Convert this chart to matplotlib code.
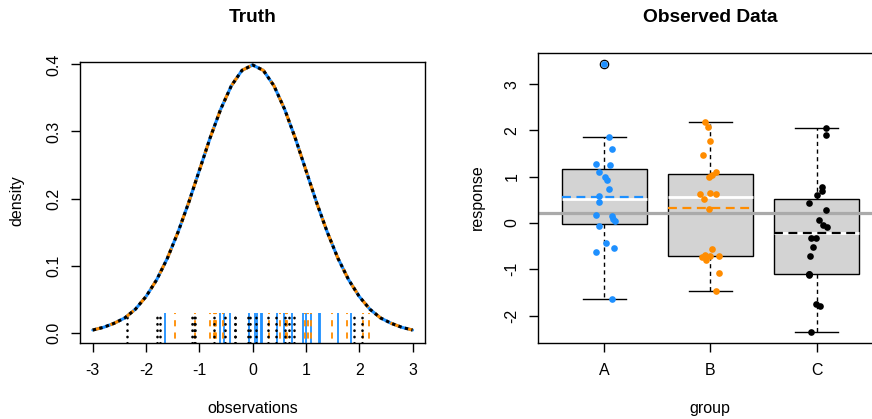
import numpy as np
import matplotlib
matplotlib.use('Agg')
import matplotlib.pyplot as plt

plt.rcParams['font.family'] = ['Liberation Sans', 'DejaVu Sans']
plt.rcParams['axes.unicode_minus'] = False

# density curve ("Truth")
curve_x = [-3.0, -2.8, -2.6, -2.4, -2.2, -2.0, -1.8, -1.6, -1.4, -1.2, -1.0,
           -0.8, -0.6, -0.4, -0.2, 0.0, 0.2, 0.4, 0.6, 0.8, 1.0,
           1.2, 1.4, 1.6, 1.8, 2.0, 2.2, 2.4, 2.6, 2.8, 3.0]
curve_y = [0.004, 0.008, 0.014, 0.022, 0.035, 0.054, 0.079, 0.111, 0.150, 0.194, 0.242,
           0.290, 0.333, 0.368, 0.391, 0.399, 0.391, 0.368, 0.333, 0.290, 0.242,
           0.194, 0.150, 0.111, 0.079, 0.054, 0.035, 0.022, 0.014, 0.008, 0.004]

# observed responses per group (same values make the rug on the left)
resp_a = [3.43, 1.85, 1.61, 1.27, 1.25, 1.10, 1.00, 0.94, 0.74, 0.58,
          0.45, 0.18, 0.15, 0.09, 0.04, -0.06, -0.43, -0.54, -0.62, -1.64]
resp_b = [2.19, 2.07, 1.77, 1.48, 1.10, 1.03, 0.99, 0.65, 0.63, 0.62,
          0.51, 0.31, -0.55, -0.68, -0.71, -0.71, -0.73, -0.80, -1.08, -1.46]
resp_c = [2.05, 1.90, 0.78, 0.69, 0.60, 0.43, 0.29, 0.06, -0.05, -0.09,
          -0.33, -0.33, -0.51, -0.72, -1.09, -1.11, -1.13, -1.74, -1.79, -2.35]

# horizontal jitter of the points in the right panel
jit_a = [0.00, 0.04, 0.07, -0.08, 0.05, -0.05, 0.01, 0.03, 0.04, -0.05,
         -0.05, -0.08, 0.07, 0.08, 0.10, -0.05, 0.02, 0.09, -0.08, 0.07]
jit_b = [-0.05, -0.02, 0.00, -0.07, 0.05, 0.01, -0.01, 0.00, -0.10, 0.05,
         -0.06, -0.01, 0.01, -0.05, 0.00, 0.08, -0.08, -0.04, 0.08, 0.05]
jit_c = [0.09, 0.09, 0.05, 0.05, 0.00, -0.07, 0.09, 0.02, 0.06, 0.10,
         -0.05, -0.01, -0.03, -0.06, -0.07, -0.07, -0.07, -0.01, 0.03, -0.05]

groups = ['A', 'B', 'C']
colors = ['dodgerblue', 'darkorange', 'black']

resp = [np.array(resp_a), np.array(resp_b), np.array(resp_c)]
jits = [np.array(jit_a), np.array(jit_b), np.array(jit_c)]


def fivenum(v):
    v = np.sort(v)
    n = len(v)
    n4 = np.floor((n + 3) / 2) / 2
    d = np.array([1, n4, (n + 1) / 2, n + 1 - n4, n]) - 1
    return 0.5 * (v[np.floor(d).astype(int)] + v[np.ceil(d).astype(int)])


W, H = 872, 419
fig = plt.figure(figsize=(W / 100, H / 100), dpi=100)

tick_kw = dict(direction='out', length=6.5, width=1.0, labelsize=11.5)

# ---------------- left panel: Truth ----------------
ax1 = fig.add_axes([80 / W, 1 - 342.7 / H, 345.3 / W, (342.7 - 62.3) / H])
ax1.set_xlim(-3.24, 3.24)
ax1.set_ylim(-0.0149, 0.403)

ax1.vlines(resp[0], -0.1, 0.03, colors=colors[0], linewidth=1.3)
ax1.vlines(resp[1], -0.1, 0.03, colors=colors[1], linewidth=1.3,
           linestyles=(0, (3.4, 3.4)))
ax1.vlines(resp[2], -0.1, 0.03, colors=colors[2], linewidth=1.9,
           linestyles=(0, (0.1, 2.3)), capstyle='round')

ax1.plot(curve_x, curve_y, color='dodgerblue', lw=2.2, solid_capstyle='round')
ax1.plot(curve_x, curve_y, color='darkorange', lw=2.2, dashes=(3, 3))
ax1.plot(curve_x, curve_y, color='black', lw=2.2, dashes=(1.1, 1.1))

ax1.set_xticks([-3, -2, -1, 0, 1, 2, 3])
ax1.set_xticklabels(['-3', '-2', '-1', '0', '1', '2', '3'])
ax1.set_yticks([0.0, 0.1, 0.2, 0.3, 0.4])
ax1.set_yticklabels(['0.0', '0.1', '0.2', '0.3', '0.4'], rotation=90, va='center')

# ---------------- right panel: Observed Data ----------------
ax2 = fig.add_axes([538 / W, 1 - 342.5 / H, 344.5 / W, (342.5 - 52.7) / H])
ax2.set_xlim(0.376, 3.62)
ax2.set_ylim(-2.58, 3.68)

stats = []
for g, v in zip(groups, resp):
    lo, q1, med, q3, hi = fivenum(v)
    iqr = q3 - q1
    inside = v[(v >= q1 - 1.5 * iqr) & (v <= q3 + 1.5 * iqr)]
    stats.append(dict(label=g, med=med, q1=q1, q3=q3,
                      whislo=inside.min(), whishi=inside.max(),
                      fliers=v[(v < q1 - 1.5 * iqr) | (v > q3 + 1.5 * iqr)]))

ax2.bxp(stats, positions=[1, 2, 3], widths=0.8, capwidths=0.4, patch_artist=True,
        manage_ticks=False,
        boxprops=dict(facecolor='lightgray', edgecolor='black', linewidth=1.0),
        medianprops=dict(color='white', linewidth=2.0, solid_capstyle='butt'),
        whiskerprops=dict(color='black', linewidth=1.0, linestyle=(0, (3, 2.5))),
        capprops=dict(color='black', linewidth=1.0),
        flierprops=dict(marker='o', markerfacecolor='none', markeredgecolor='black',
                        markersize=6.0, markeredgewidth=0.9))

grand = np.concatenate(resp).mean()
ax2.axhline(grand, color='#AAAAAA', lw=2.3, zorder=2.5)

for i, (v, c) in enumerate(zip(resp, colors)):
    pos = i + 1
    ax2.hlines(v.mean(), pos - 0.4, pos + 0.4, colors=c, linewidth=1.6,
               linestyles=(0, (4, 2.5)), zorder=3)
    ax2.plot(pos + jits[i], v, 'o', color=c, ms=4.8, mew=0, zorder=4)

ax2.set_xticks([1, 2, 3])
ax2.set_xticklabels(groups)
ax2.set_yticks([-2, -1, 0, 1, 2, 3])
ax2.set_yticklabels(['-2', '-1', '0', '1', '2', '3'], rotation=90, va='center')

for ax in (ax1, ax2):
    ax.tick_params(**tick_kw)
    ax.tick_params(axis='x', pad=8)
    ax.tick_params(axis='y', pad=7)
    for s in ax.spines.values():
        s.set_linewidth(1.0)

# titles and axis labels
fig.text(252.5 / W, 1 - 17 / H, 'Truth', ha='center', va='center',
         fontsize=13.8, fontweight='bold')
fig.text(710 / W, 1 - 17 / H, 'Observed Data', ha='center', va='center',
         fontsize=13.8, fontweight='bold')
fig.text(252.5 / W, 1 - 408 / H, 'observations', ha='center', va='center', fontsize=11.5)
fig.text(17 / W, 1 - 201 / H, 'density', ha='center', va='center', fontsize=11.5,
         rotation=90)
fig.text(710 / W, 1 - 408 / H, 'group', ha='center', va='center', fontsize=11.5)
fig.text(477 / W, 1 - 197.6 / H, 'response', ha='center', va='center', fontsize=11.5,
         rotation=90)

plt.savefig('out.png', dpi=100)
